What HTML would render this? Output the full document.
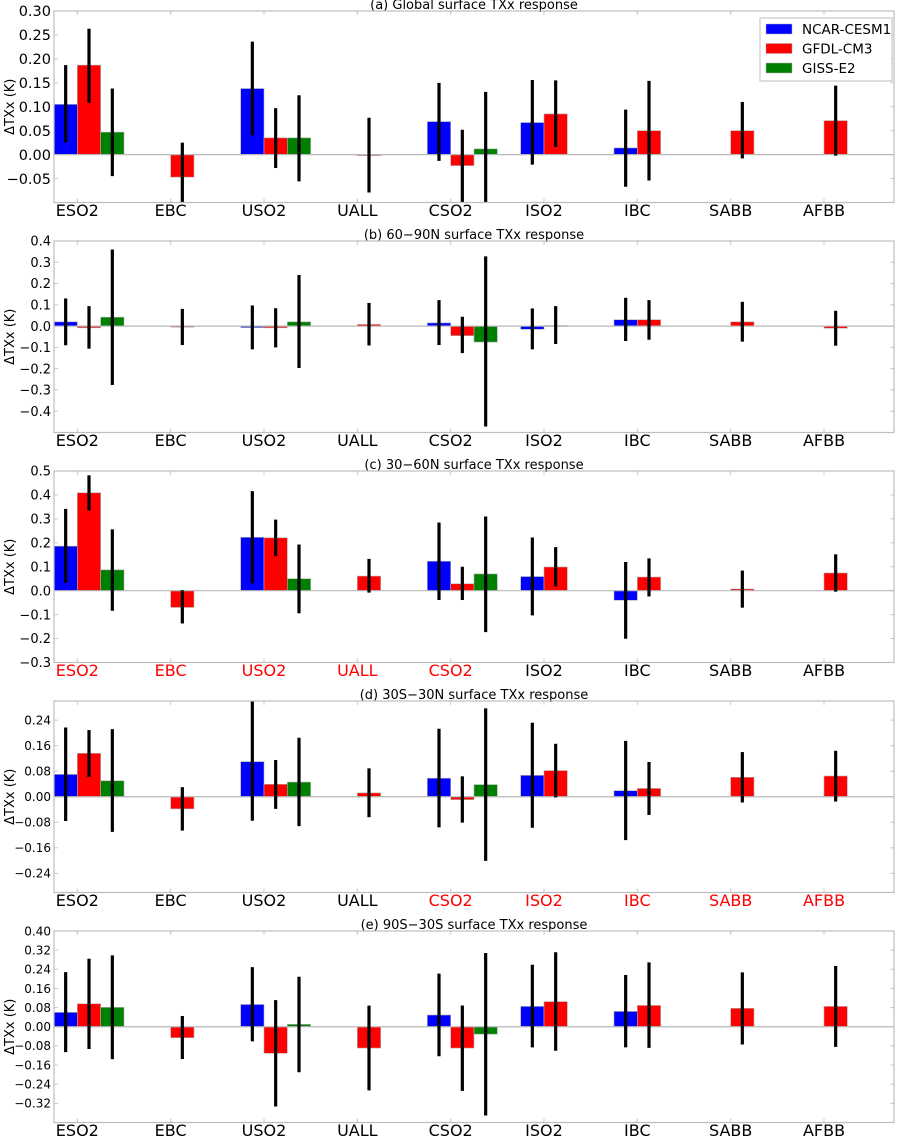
<!DOCTYPE html>
<html><head><meta charset="utf-8">
<style>
html,body{margin:0;padding:0;background:#fff;}
svg{display:block;font-family:"DejaVu Sans","Liberation Sans",sans-serif;}
</style></head>
<body>
<svg id="chart" width="900" height="1137" viewBox="0 0 900 1137" xmlns="http://www.w3.org/2000/svg"></svg>
<script>
const categories = ["ESO2","EBC","USO2","UALL","CSO2","ISO2","IBC","SABB","AFBB"];
const seriesNames = ["NCAR-CESM1","GFDL-CM3","GISS-E2"];

// Panel (a) Global
const aNcar = [0.105,null,0.138,null,0.069,0.067,0.014,null,null];
const aGfdl = [0.187,-0.047,0.035,-0.001,-0.023,0.085,0.05,0.05,0.071];
const aGiss = [0.047,null,0.035,null,0.012,null,null,null,null];
const aNcarErr = [[0.025,0.187],null,[0.04,0.236],null,[-0.013,0.15],[-0.021,0.156],[-0.067,0.094],null,null];
const aGfdlErr = [[0.108,0.263],[-0.12,0.025],[-0.028,0.097],[-0.079,0.077],[-0.12,0.052],[0.016,0.155],[-0.054,0.154],[-0.008,0.11],[-0.002,0.144]];
const aGissErr = [[-0.045,0.138],null,[-0.056,0.124],null,[-0.12,0.131],null,null,null,null];
const aTicks = [0.30,0.25,0.20,0.15,0.10,0.05,0.00,-0.05];

// Panel (b) 60-90N
const bNcar = [0.02,null,-0.007,null,0.015,-0.015,0.03,null,null];
const bGfdl = [-0.008,-0.005,-0.008,0.008,-0.045,0.003,0.03,0.02,-0.01];
const bGiss = [0.042,null,0.02,null,-0.075,null,null,null,null];
const bNcarErr = [[-0.09,0.13],null,[-0.109,0.097],null,[-0.089,0.122],[-0.109,0.083],[-0.07,0.133],null,null];
const bGfdlErr = [[-0.106,0.094],[-0.089,0.081],[-0.1,0.084],[-0.091,0.109],[-0.127,0.044],[-0.084,0.094],[-0.064,0.122],[-0.073,0.114],[-0.092,0.072]];
const bGissErr = [[-0.277,0.36],null,[-0.197,0.24],null,[-0.472,0.328],null,null,null,null];
const bTicks = [0.4,0.3,0.2,0.1,0.0,-0.1,-0.2,-0.3,-0.4];

// Panel (c) 30-60N
const cNcar = [0.186,null,0.223,null,0.123,0.059,-0.04,null,null];
const cGfdl = [0.409,-0.07,0.221,0.061,0.029,0.099,0.057,0.007,0.074];
const cGiss = [0.087,null,0.05,null,0.07,null,null,null,null];
const cNcarErr = [[0.032,0.342],null,[0.031,0.416],null,[-0.039,0.285],[-0.103,0.222],[-0.201,0.12],null,null];
const cGfdlErr = [[0.335,0.482],[-0.137,0.002],[0.144,0.297],[-0.008,0.133],[-0.039,0.1],[0.018,0.182],[-0.024,0.135],[-0.071,0.084],[-0.004,0.152]];
const cGissErr = [[-0.084,0.256],null,[-0.094,0.193],null,[-0.173,0.31],null,null,null,null];
const cTicks = [0.5,0.4,0.3,0.2,0.1,0.0,-0.1,-0.2,-0.3];

// Panel (d) 30S-30N
const dNcar = [0.07,null,0.11,null,0.058,0.067,0.019,null,null];
const dGfdl = [0.136,-0.038,0.039,0.012,-0.009,0.082,0.026,0.061,0.065];
const dGiss = [0.05,null,0.046,null,0.038,null,null,null,null];
const dNcarErr = [[-0.076,0.217],null,[-0.075,0.3],null,[-0.096,0.213],[-0.097,0.232],[-0.136,0.175],null,null];
const dGfdlErr = [[0.062,0.209],[-0.106,0.03],[-0.038,0.115],[-0.064,0.089],[-0.081,0.064],[-0.002,0.166],[-0.057,0.109],[-0.018,0.14],[-0.015,0.144]];
const dGissErr = [[-0.11,0.212],null,[-0.092,0.185],null,[-0.201,0.277],null,null,null,null];
const dTicks = [0.24,0.16,0.08,0.00,-0.08,-0.16,-0.24];

// Panel (e) 90S-30S
const eNcar = [0.06,null,0.093,null,0.049,0.085,0.064,null,null];
const eGfdl = [0.096,-0.046,-0.111,-0.089,-0.089,0.105,0.089,0.077,0.085];
const eGiss = [0.081,null,0.01,null,-0.031,null,null,null,null];
const eNcarErr = [[-0.106,0.228],null,[-0.061,0.249],null,[-0.123,0.222],[-0.086,0.259],[-0.086,0.216],null,null];
const eGfdlErr = [[-0.093,0.284],[-0.135,0.045],[-0.333,0.111],[-0.266,0.088],[-0.268,0.089],[-0.1,0.311],[-0.088,0.269],[-0.074,0.227],[-0.084,0.254]];
const eGissErr = [[-0.135,0.298],null,[-0.19,0.209],null,[-0.371,0.308],null,null,null,null];
const eTicks = [0.40,0.32,0.24,0.16,0.08,0.00,-0.08,-0.16,-0.24,-0.32];

const panels = [
 {key:"a",title:"(a) Global surface TXx response",top:11,ymin:-0.1,ymax:0.3,dec:2,fs:14.5,ticks:aTicks,vals:[aNcar,aGfdl,aGiss],errs:[aNcarErr,aGfdlErr,aGissErr],red:[],legend:true},
 {key:"b",title:"(b) 60\u221290N surface TXx response",top:241,ymin:-0.5,ymax:0.4,dec:1,fs:13,ticks:bTicks,vals:[bNcar,bGfdl,bGiss],errs:[bNcarErr,bGfdlErr,bGissErr],red:[]},
 {key:"c",title:"(c) 30\u221260N surface TXx response",top:471,ymin:-0.3,ymax:0.5,dec:1,fs:13,ticks:cTicks,vals:[cNcar,cGfdl,cGiss],errs:[cNcarErr,cGfdlErr,cGissErr],red:[0,1,2,3,4]},
 {key:"d",title:"(d) 30S\u221230N surface TXx response",top:701,ymin:-0.3,ymax:0.3,dec:2,fs:12,ticks:dTicks,vals:[dNcar,dGfdl,dGiss],errs:[dNcarErr,dGfdlErr,dGissErr],red:[4,5,6,7,8]},
 {key:"e",title:"(e) 90S\u221230S surface TXx response",top:931,ymin:-0.4,ymax:0.4,dec:2,fs:12,ticks:eTicks,vals:[eNcar,eGfdl,eGiss],errs:[eNcarErr,eGfdlErr,eGissErr],red:[]}
];
const colors = ["#0000ff","#ff0000","#008000"];
const NS = "http://www.w3.org/2000/svg";
const svg = document.getElementById("chart");
const L = 54, R = 894, H = 191.5, XU = (R - L) / 9, BW = 0.25;

function mk(tag, attrs, parent) {
  const e = document.createElementNS(NS, tag);
  for (const k in attrs) e.setAttribute(k, attrs[k]);
  parent.appendChild(e);
  return e;
}
function fmt(v, d) { const s = Math.abs(v).toFixed(d); return (v < -1e-9 ? "\u2212" : "") + s; }

panels.forEach(p => {
  const g = mk("g", {}, svg);
  
  
  const top = p.top, bot = top + H;
  const xs = v => L + v * XU;
  const ys = v => top + (p.ymax - v) / (p.ymax - p.ymin) * H;
  const clip = v => Math.max(p.ymin, Math.min(p.ymax, v));

  const t = mk("text", {x: (L + R) / 2, y: top - 2, "text-anchor": "middle", "font-size": 13, fill: "#000"}, g);
  t.textContent = p.title;
  
  

  categories.forEach((c, i) => {
    const xt = xs(i + BW);
    mk("line", {x1: xt, x2: xt, y1: top, y2: top + 4, stroke: "#c8c8c8", "stroke-width": 1}, g);
    mk("line", {x1: xt, x2: xt, y1: bot, y2: bot - 4, stroke: "#c8c8c8", "stroke-width": 1}, g);
  });
  p.ticks.forEach(v => {
    const y = ys(v);
    mk("line", {x1: L, x2: L + 4, y1: y, y2: y, stroke: "#c8c8c8"}, g);
    mk("line", {x1: R, x2: R - 4, y1: y, y2: y, stroke: "#c8c8c8"}, g);
    const tl = mk("text", {x: L - 3, y: y + p.fs * 0.36, "text-anchor": "end", "font-size": p.fs, fill: "#000"}, g);
    tl.textContent = fmt(v, p.dec);
    
    
  });

  p.vals.forEach((arr, s) => {
    arr.forEach((v, i) => {
      if (v === null) return;
      const y0 = ys(0), y1 = ys(v);
      const r = mk("rect", {x: xs(i + s * BW), y: Math.min(y0, y1), width: BW * XU, height: Math.max(Math.abs(y1 - y0), 1), fill: colors[s], stroke: "#b0b0b0", "stroke-width": 0.6}, g);
      
      
    });
  });
  mk("line", {x1: L, x2: R, y1: ys(0), y2: ys(0), stroke: "#b8b8b8", "stroke-width": 1.2}, g);
  p.errs.forEach((arr, s) => {
    arr.forEach((e, i) => {
      if (!e) return;
      const xc = xs(i + s * BW + BW / 2);
      const l = mk("line", {x1: xc, x2: xc, y1: ys(clip(e[0])), y2: ys(clip(e[1])), stroke: "#000", "stroke-width": 3.2}, g);
      
      
    });
  });
  mk("rect", {x: L, y: top, width: R - L, height: H, fill: "none", stroke: "#bdbdbd", "stroke-width": 1.2}, g);

  categories.forEach((c, i) => {
    const tx = mk("text", {x: xs(i + BW), y: bot + 13.5, "text-anchor": "middle", "font-size": 16, fill: p.red.includes(i) ? "#ff0000" : "#000"}, g);
    tx.textContent = c;
    
    
  });
  const yt = mk("text", {x: 0, y: 0, "text-anchor": "middle", "font-size": 13, fill: "#000", transform: "translate(14," + (top + H / 2) + ") rotate(-90)"}, g);
  yt.textContent = "\u0394TXx (K)";
  
  

  if (p.legend) {
    const lg = mk("g", {}, g);
    
    
    mk("rect", {x: 760, y: 18, width: 132, height: 63, fill: "#fff", stroke: "#bdbdbd", "stroke-width": 1}, lg);
    seriesNames.forEach((n, s) => {
      const yy = 29 + s * 19.5;
      mk("rect", {x: 766, y: yy - 5, width: 26, height: 10, fill: colors[s], stroke: "#b0b0b0", "stroke-width": 0.5}, lg);
      const lt = mk("text", {x: 802, y: yy + 5, "font-size": 13.5, fill: "#000"}, lg);
      lt.textContent = n;
      
      
    });
  }
});
</script>
</body></html>
